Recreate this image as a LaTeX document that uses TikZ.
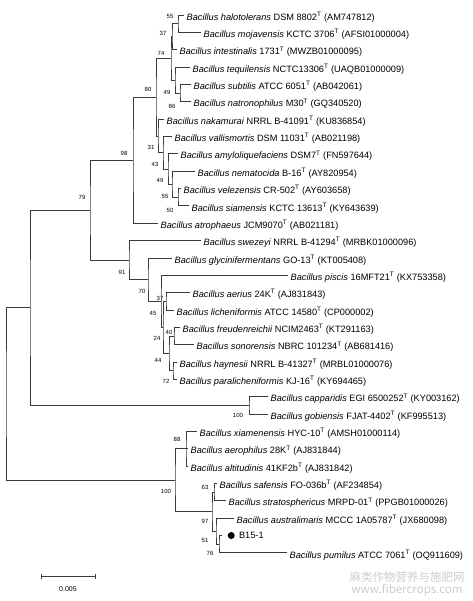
\documentclass[tikz,border=0pt]{standalone}
\usepackage{fontspec}
\setmainfont{Liberation Sans}
\newfontfamily\cjkfont{Noto Sans CJK SC}
\usetikzlibrary{arrows.meta,calc,positioning}
\definecolor{treegray}{HTML}{3A3A3A}
\definecolor{markgray}{HTML}{CCCCCC}
\newcommand{\bac}[1]{\textit{Bacillus #1}}
\newcommand{\typ}{\textsuperscript{T}}
% one bracket: name, x, upper child, lower child, support value, label shift
\newcommand{\clade}[6]{%
  \coordinate (mid#1) at ($(#3)!0.5!(#4)$);
  \coordinate (#1) at (#2,0 |- mid#1);
  \draw[branch] (#3) -| (#1) |- (#4);
  \if\relax\detokenize{#5}\relax\else
    \node[boot] (b#1) at ([shift={#6}]#1) {#5};
  \fi
}

\begin{document}
\begin{tikzpicture}[
    x=1pt, y=-1pt,
    branch/.style={draw=treegray, line width=0.75pt},
    leaf/.style={anchor=west, inner xsep=2.5pt, inner ysep=0pt, yshift=-2pt,
                 font=\fontsize{9.2}{11}\selectfont},
    boot/.style={inner sep=0pt, font=\fontsize{6}{7}\selectfont},
    dotmark/.style={circle, fill=black, inner sep=0pt, minimum size=7pt},
    wmark/.style={text=markgray, inner sep=0pt, font=\fontsize{11.5}{13}\selectfont}
]
    \useasboundingbox (0,0) rectangle (472,601);

    % leaves: name / row / tip x / label
    \foreach \id/\row/\tip/\txt in {
        halo/0/184/{\bac{halotolerans} DSM 8802\typ{} (AM747812)},
        moja/1/201/{\bac{mojavensis} KCTC 3706\typ{} (AFSI01000004)},
        intest/2/177/{\bac{intestinalis} 1731\typ{} (MWZB01000095)},
        tequil/3/190/{\bac{tequilensis} NCTC13306\typ{} (UAQB01000009)},
        subt/4/191/{\bac{subtilis} ATCC 6051\typ{} (AB042061)},
        natron/5/191/{\bac{natronophilus} M30\typ{} (GQ340520)},
        nakam/6/164/{\bac{nakamurai} NRRL B-41091\typ{} (KU836854)},
        vallis/7/172/{\bac{vallismortis} DSM 11031\typ{} (AB021198)},
        amylo/8/178/{\bac{amyloliquefaciens} DSM7\typ{} (FN597644)},
        nemat/9/195/{\bac{nematocida} B-16\typ{} (AY820954)},
        velez/10/181/{\bac{velezensis} CR-502\typ{} (AY603658)},
        siam/11/189/{\bac{siamensis} KCTC 13613\typ{} (KY643639)},
        atroph/12/158/{\bac{atrophaeus} JCM9070\typ{} (AB021181)},
        swez/13/201/{\bac{swezeyi} NRRL B-41294\typ{} (MRBK01000096)},
        glyc/14/172/{\bac{glycinifermentans} GO-13\typ{} (KT005408)},
        piscis/15/288/{\bac{piscis} 16MFT21\typ{} (KX753358)},
        aerius/16/190/{\bac{aerius} 24K\typ{} (AJ831843)},
        lich/17/174/{\bac{licheniformis} ATCC 14580\typ{} (CP000002)},
        freud/18/180/{\bac{freudenreichii} NCIM2463\typ{} (KT291163)},
        sonor/19/194/{\bac{sonorensis} NBRC 101234\typ{} (AB681416)},
        hayn/20/177/{\bac{haynesii} NRRL B-41327\typ{} (MRBL01000076)},
        paral/21/177/{\bac{paralicheniformis} KJ-16\typ{} (KY694465)},
        cappa/22/268/{\bac{capparidis} EGI 6500252\typ{} (KY003162)},
        gobi/23/268/{\bac{gobiensis} FJAT-4402\typ{} (KF995513)},
        xiam/24/197/{\bac{xiamenensis} HYC-10\typ{} (AMSH01000114)},
        aeroph/25/188/{\bac{aerophilus} 28K\typ{} (AJ831844)},
        altit/26/188/{\bac{altitudinis} 41KF2b\typ{} (AJ831842)},
        safen/27/217/{\bac{safensis} FO-036b\typ{} (AF234854)},
        strato/28/226/{\bac{stratosphericus} MRPD-01\typ{} (PPGB01000026)},
        austr/29/234/{\bac{australimaris} MCCC 1A05787\typ{} (JX680098)},
        pumil/31/287/{\bac{pumilus} ATCC 7061\typ{} (OQ911609)}}{
        \coordinate (\id) at (\tip, {15+17.35*\row});
        \node[leaf] (t\id) at (\id) {\txt};
    }
    \coordinate (b15) at (222, {15+17.35*30});
    \node[dotmark, right=5.5pt of b15] (b15dot) {};
    \node[leaf, right=1.5pt of b15dot, yshift=2pt] (tb15) {B15-1};

    % subtilis group
    \clade{n55}{178}{halo}{moja}{55}{(-8,-7)}
    \clade{n37}{172}{n55}{intest}{37}{(-9,-3)}
    \clade{n86}{180}{subt}{natron}{86}{(-8,13)}
    \clade{n49}{175}{tequil}{n86}{49}{(-8,12)}
    \clade{n74}{171}{n37}{n49}{74}{(-10,-5)}
    \clade{na}{178}{velez}{siam}{50}{(-8,13)}
    \clade{nb}{172}{nemat}{na}{55}{(-7,12)}
    \clade{nc}{168}{amylo}{nb}{49}{(-8,11)}
    \clade{nd}{163}{vallis}{nc}{43}{(-8,12)}
    \clade{ne}{158}{nakam}{nd}{31}{(-7,12)}
    \clade{n80}{156}{n74}{ne}{80}{(-8,-8)}
    \clade{n98}{133}{n80}{atroph}{98}{(-9,-7)}
    % licheniformis group
    \clade{n37b}{166}{aerius}{lich}{37}{(-6,-3)}
    \clade{n40}{174}{freud}{sonor}{40}{(-5,-4)}
    \clade{n72}{173}{hayn}{paral}{72}{(-7,11)}
    \clade{n44}{169}{n40}{n72}{44}{(-11,7)}
    \clade{n24}{163}{n37b}{n44}{24}{(-6,11)}
    \clade{n45}{161}{piscis}{n24}{45}{(-8,12)}
    \clade{n70}{148}{glyc}{n45}{70}{(-6,12)}
    \clade{n91}{129}{swez}{n70}{91}{(-7,12)}
    \clade{n79}{90}{n98}{n91}{79}{(-8,-13)}
    \clade{ncg}{249}{cappa}{gobi}{100}{(-11,10)}
    \clade{ntop}{30}{n79}{ncg}{}{}
    % pumilus group
    \clade{n88}{186}{xiam}{altit}{88}{(-9,-9)}
    \draw[branch] (n88 |- aeroph) -- (aeroph);
    \clade{n63}{214}{safen}{strato}{63}{(-9,-5)}
    \clade{n76}{219}{b15}{pumil}{76}{(-9,9)}
    \clade{n51}{216}{austr}{n76}{51}{(-11,9)}
    \clade{n97}{212}{n63}{n51}{97}{(-7,10)}
    \clade{n100}{175}{n88}{n97}{100}{(-9,11)}
    \clade{root}{6}{ntop}{n100}{}{}

    % scale bar
    \coordinate (barL) at (41,576);
    \coordinate (barR) at (96,576);
    \draw[branch, {Bar[width=5pt]}-{Bar[width=5pt]}] (barL) -- (barR);
    \node[boot, font=\fontsize{7}{8}\selectfont] (barlab) at (68,589) {0.005};

    % watermark
    \node[wmark] (wmcn) at (407,577) {\cjkfont 麻类作物营养与施肥网};
    \node[wmark] (wmurl) at (407,590) {\cjkfont www.fibercrops.com};
\end{tikzpicture}
\end{document}
